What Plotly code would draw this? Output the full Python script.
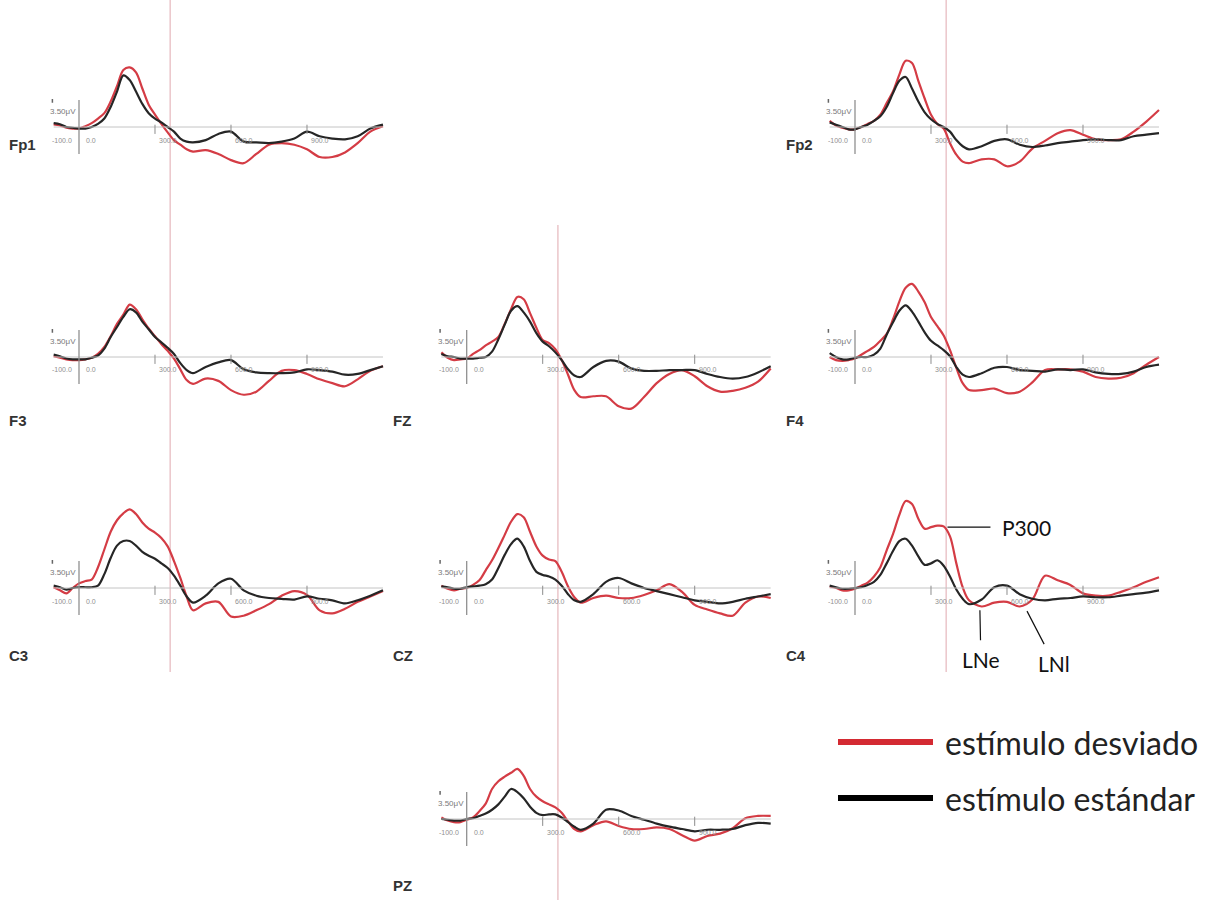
import plotly.graph_objects as go

W, H = 1209, 900

# ---------------- data (µV) ----------------
T = [-100, -75, -50, -25, 0, 25, 50, 75, 100, 125, 150, 175, 200, 225, 250, 275, 300, 325, 350, 375, 400, 425, 450,
     500, 550, 600, 650, 700, 750, 800, 850, 900, 950, 1000, 1050, 1100, 1150, 1200]

FP1_DESV = [0.35, 0.2, -0.1, -0.2, -0.2, 0.1, 0.5, 1.1, 1.8, 3.3, 5.3, 7.4, 7.75, 7.1, 5.0, 2.9, 1.6, 0.4, -0.7, -1.7,
            -2.3, -2.9, -3.2, -3.0, -3.5, -4.3, -4.7, -3.5, -2.3, -2.1, -2.3, -2.9, -3.9, -3.9, -3.3, -2.1, -0.6, 0.1]
FP1_STD = [0.5, 0.35, 0.0, -0.1, -0.2, -0.2, 0.0, 0.4, 1.1, 2.6, 4.6, 6.7, 6.1, 4.6, 3.0, 1.8, 1.1, 0.6, 0.0, -0.6,
           -1.5, -1.9, -2.0, -1.7, -0.9, -0.6, -1.9, -2.0, -2.1, -1.9, -1.5, -0.6, -1.2, -1.5, -1.6, -1.2, -0.2, 0.3]

FP2_DESV = [0.8, 0.2, -0.1, -0.3, -0.3, 0.0, 0.4, 0.8, 1.6, 3.1, 4.6, 6.8, 8.6, 8.3, 6.0, 3.7, 1.6, 0.4, -0.2, -2.1,
            -3.6, -4.5, -4.7, -4.2, -4.2, -5.1, -4.5, -2.8, -1.8, -0.8, -0.4, -1.0, -1.6, -1.7, -1.6, -0.6, 0.7, 2.2]
FP2_STD = [0.6, 0.3, 0.0, -0.3, -0.3, 0.0, 0.3, 0.8, 1.4, 2.6, 4.4, 6.0, 6.5, 5.0, 3.3, 1.9, 1.0, 0.4, 0.0, -0.6,
           -1.7, -2.5, -2.9, -2.5, -1.8, -1.6, -2.3, -2.6, -2.4, -2.1, -1.9, -1.7, -1.6, -1.7, -1.7, -1.2, -1.0, -0.8]

F3_DESV = [0.1, -0.1, -0.3, -0.4, -0.4, -0.3, -0.1, 0.4, 1.3, 2.7, 4.3, 5.5, 6.8, 6.2, 4.9, 3.7, 2.7, 1.7, 0.8, -0.2,
           -1.6, -3.0, -3.5, -2.8, -3.1, -4.3, -4.9, -4.5, -3.1, -1.8, -1.7, -2.2, -2.9, -3.4, -3.8, -2.9, -1.8, -1.2]
F3_STD = [0.3, 0.1, -0.2, -0.3, -0.3, -0.3, -0.1, 0.2, 1.1, 2.6, 3.9, 5.2, 6.2, 5.8, 4.6, 3.6, 2.6, 1.9, 1.2, 0.4,
          -0.8, -1.7, -2.1, -1.3, -0.7, -0.4, -1.6, -2.0, -2.1, -2.1, -2.0, -1.6, -1.7, -1.9, -2.3, -2.2, -1.7, -1.2]

FZ_DESV = [0.6, -0.1, -0.4, -0.3, -0.2, 0.4, 0.9, 1.5, 2.0, 2.6, 4.3, 6.2, 7.8, 7.5, 5.7, 3.8, 2.2, 1.8, 1.0, -0.4,
           -2.3, -4.3, -5.2, -5.1, -5.1, -6.4, -6.7, -5.2, -3.4, -2.2, -1.7, -2.5, -3.8, -4.5, -4.4, -4.0, -3.2, -1.5]
FZ_STD = [0.4, 0.1, 0.0, -0.2, -0.2, -0.2, -0.1, 0.0, 0.7, 2.3, 4.2, 6.0, 6.6, 5.8, 4.6, 3.1, 2.0, 1.4, 0.6, -0.4,
          -1.6, -2.4, -2.6, -1.3, -0.5, -0.6, -1.5, -1.8, -1.8, -1.7, -1.7, -1.7, -2.2, -2.6, -2.8, -2.6, -2.0, -1.2]

F4_DESV = [0.0, -0.4, -0.5, -0.4, -0.2, 0.3, 0.8, 1.3, 2.1, 3.0, 4.9, 7.2, 9.0, 9.5, 8.5, 7.1, 5.2, 4.0, 2.8, 0.9,
           -1.4, -3.4, -4.3, -4.3, -4.1, -4.7, -4.5, -3.3, -1.7, -1.6, -1.6, -1.9, -2.6, -2.8, -2.7, -2.1, -1.0, 0.0]
F4_STD = [0.5, 0.0, -0.3, -0.3, -0.1, 0.0, 0.0, 0.3, 1.1, 2.9, 4.5, 6.0, 6.7, 5.9, 4.6, 3.2, 2.1, 1.5, 0.9, 0.1,
          -1.3, -2.3, -2.6, -2.1, -1.4, -1.3, -1.7, -1.8, -1.9, -1.6, -1.7, -1.6, -2.0, -2.2, -2.2, -1.9, -1.3, -1.0]

C3_DESV = [0.1, -0.3, -0.7, 0.0, 0.6, 0.9, 1.1, 2.7, 5.0, 7.3, 8.8, 9.7, 10.2, 9.6, 8.5, 7.7, 7.2, 6.5, 5.4, 3.5,
           1.3, -1.1, -2.9, -2.0, -1.8, -3.7, -3.6, -2.9, -2.1, -1.0, -0.4, -0.9, -2.9, -3.3, -2.7, -1.8, -1.1, -0.4]
C3_STD = [0.3, 0.1, -0.2, 0.0, 0.1, 0.1, 0.1, 0.3, 1.8, 3.9, 5.5, 6.1, 6.1, 5.5, 4.7, 4.2, 3.8, 3.2, 2.6, 1.6,
          0.3, -1.1, -1.9, -1.0, 0.6, 1.2, -0.3, -1.0, -1.3, -1.4, -1.5, -1.1, -1.4, -1.6, -2.0, -1.6, -1.0, -0.3]

CZ_DESV = [0.3, -0.1, -0.3, -0.1, 0.0, 0.4, 1.0, 2.3, 3.6, 5.2, 6.9, 8.6, 9.6, 9.2, 7.3, 5.4, 4.2, 3.7, 3.5, 2.1,
           0.2, -1.2, -1.9, -1.3, -1.0, -1.3, -1.3, -0.9, -0.3, 0.5, -0.5, -2.2, -2.8, -3.3, -3.6, -1.9, -1.1, -1.3]
CZ_STD = [0.2, 0.1, -0.1, -0.1, 0.1, 0.2, 0.3, 0.5, 1.1, 2.6, 4.3, 5.7, 6.4, 5.4, 3.5, 2.1, 1.7, 1.5, 1.1, 0.3,
          -0.8, -1.6, -1.8, -0.8, 0.8, 1.3, 0.6, 0.0, -0.4, -0.8, -1.2, -1.6, -1.8, -2.0, -1.8, -1.4, -1.1, -0.8]

C4_DESV = [0.2, 0.0, -0.3, -0.3, -0.1, 0.3, 0.7, 1.5, 2.7, 4.9, 7.0, 9.5, 11.3, 10.9, 9.0, 7.7, 7.9, 8.1, 8.0, 6.7,
           3.2, 0.1, -1.6, -2.4, -1.9, -1.8, -2.4, -1.5, 1.6, 1.0, 0.4, -0.7, -1.0, -1.0, -0.5, 0.1, 0.8, 1.4]
C4_STD = [0.3, 0.1, -0.1, -0.1, 0.0, 0.1, 0.4, 0.8, 1.7, 3.2, 4.8, 6.1, 6.4, 5.5, 4.1, 3.0, 3.2, 3.6, 2.9, 1.5,
          -0.2, -1.4, -2.1, -1.5, 0.1, 0.3, -0.8, -1.4, -1.6, -1.4, -1.3, -1.1, -1.2, -1.2, -1.0, -0.8, -0.6, -0.3]

PZ_DESV = [0.2, -0.2, -0.4, -0.4, -0.1, 0.2, 1.0, 2.0, 3.9, 4.9, 5.5, 6.0, 6.5, 5.6, 3.9, 2.9, 2.3, 1.9, 1.5, 0.8,
           -0.3, -1.3, -1.6, -0.8, -0.3, -0.9, -1.3, -1.3, -1.1, -1.3, -2.1, -2.8, -2.2, -1.9, -1.2, 0.1, 0.4, 0.4]
PZ_STD = [0.0, -0.1, -0.2, -0.2, 0.0, 0.1, 0.4, 0.7, 1.2, 1.9, 2.9, 3.9, 3.5, 2.7, 1.6, 0.8, 0.5, 0.6, 0.6, 0.2,
          -0.4, -1.0, -1.4, -0.6, 1.2, 1.1, 0.4, -0.1, -0.6, -1.0, -1.3, -1.6, -1.4, -1.4, -1.3, -0.8, -0.5, -0.6]

ELECTRODES = ["Fp1", "Fp2", "F3", "FZ", "F4", "C3", "CZ", "C4", "PZ"]
DESV = [FP1_DESV, FP2_DESV, F3_DESV, FZ_DESV, F4_DESV, C3_DESV, CZ_DESV, C4_DESV, PZ_DESV]
STD = [FP1_STD, FP2_STD, F3_STD, FZ_STD, F4_STD, C3_STD, CZ_STD, C4_STD, PZ_STD]

TICK_VALS = [-100, 0, 300, 600, 900]
TICK_LABELS = ["-100.0", "0.0", "300.0", "600.0", "900.0"]
SCALE_UV = 3.5
SCALE_LABEL = "3.50\u03bcV"
MARKER_MS = 360
SERIES_NAMES = ["estímulo desviado", "estímulo estándar"]
PEAK_LABELS = [("P300", 365, 7.9), ("LNe", 493, -2.9), ("LNl", 679, -3.0)]

# ---------------- layout helpers ----------------
COLS = {"Fp1": 0, "Fp2": 2, "F3": 0, "FZ": 1, "F4": 2, "C3": 0, "CZ": 1, "C4": 2, "PZ": 1}
ROWS = {"Fp1": 0, "Fp2": 0, "F3": 1, "FZ": 1, "F4": 1, "C3": 2, "CZ": 2, "C4": 2, "PZ": 3}
COL_X0 = [79, 466.7, 855]
ROW_BASE = [127, 357, 588, 819]
LABEL_POS = {"Fp1": (7, 145), "Fp2": (784, 145), "F3": (7, 420), "FZ": (391, 420), "F4": (784, 420),
             "C3": (7, 655), "CZ": (391, 655), "C4": (784, 655), "PZ": (391, 885)}
PX_MS = 76 / 300
PX_UV = 7.7
XR = [-130, 1230]
YR = [-10, 14]

RED = "#d43c45"
BLACK = "#262626"

fig = go.Figure()
shapes, annotations = [], []
col_axis = {}

for i, name in enumerate(ELECTRODES):
    k = i + 1
    xid = "x" if k == 1 else f"x{k}"
    yid = "y" if k == 1 else f"y{k}"
    c, r = COLS[name], ROWS[name]
    x0 = COL_X0[c]
    base = ROW_BASE[r]
    xl = (x0 + XR[0] * PX_MS) / W
    xr = (x0 + XR[1] * PX_MS) / W
    yb = 1 - (base - YR[0] * PX_UV) / H
    yt = 1 - (base - YR[1] * PX_UV) / H
    fig.layout[("xaxis" if k == 1 else f"xaxis{k}")] = dict(domain=[xl, xr], range=XR, visible=False,
                                                           anchor=yid, fixedrange=True)
    fig.layout[("yaxis" if k == 1 else f"yaxis{k}")] = dict(domain=[yb, yt], range=YR, visible=False,
                                                           anchor=xid, fixedrange=True)
    col_axis.setdefault(c, xid)

    # axes drawn in data coordinates
    shapes.append(dict(type="line", xref=xid, yref=yid, x0=T[0], x1=T[-1], y0=0, y1=0,
                       line=dict(color="#c4c4c4", width=1)))
    shapes.append(dict(type="line", xref=xid, yref=yid, x0=0, x1=0, y0=-SCALE_UV, y1=SCALE_UV,
                       line=dict(color="#909090", width=1.3)))
    shapes.append(dict(type="line", xref=xid, yref=yid, x0=-105, x1=-105, y0=SCALE_UV - 0.35, y1=SCALE_UV + 0.15,
                       line=dict(color="#666", width=1.5)))
    for tv in TICK_VALS[2:]:
        shapes.append(dict(type="line", xref=xid, yref=yid, x0=tv, x1=tv, y0=-0.9, y1=0.3,
                           line=dict(color="#8c8c8c", width=1)))
    for tv, lab in zip(TICK_VALS, TICK_LABELS):
        shift = -4 if tv < 0 else (5 if tv == 0 else 2)
        annotations.append(dict(xref=xid, yref=yid, x=tv, y=0, text=lab, showarrow=False,
                                xanchor="left", yanchor="middle", xshift=shift, yshift=-13,
                                font=dict(size=7, color="#8f8f8f", family="Liberation Sans")))
    annotations.append(dict(xref=xid, yref=yid, x=0, y=SCALE_UV * 0.56, text=SCALE_LABEL, showarrow=False,
                            xanchor="right", yanchor="middle", xshift=-1,
                            font=dict(size=8, color="#7a7a7a", family="Liberation Sans")))
    lx, ly = LABEL_POS[name]
    annotations.append(dict(xref="paper", yref="paper", x=lx / W, y=1 - ly / H, text=f"<b>{name}</b>",
                            showarrow=False, xanchor="left", yanchor="middle",
                            font=dict(size=15, color="#333333", family="Liberation Sans")))

    fig.add_trace(go.Scatter(x=T, y=DESV[i], xaxis=xid, yaxis=yid, mode="lines", showlegend=False,
                             name=SERIES_NAMES[0],
                             line=dict(color=RED, width=2.2, shape="spline", smoothing=0.9)))
    fig.add_trace(go.Scatter(x=T, y=STD[i], xaxis=xid, yaxis=yid, mode="lines", showlegend=False,
                             name=SERIES_NAMES[1],
                             line=dict(color=BLACK, width=2.2, shape="spline", smoothing=0.9)))

    if name == "C4":
        offsets = {"P300": (79, 0), "LNe": (1, 49), "LNl": (27, 52)}
        for lab, tx, ty in PEAK_LABELS:
            ax, ay = offsets[lab]
            annotations.append(dict(xref=xid, yref=yid, x=tx, y=ty, text=lab, showarrow=True,
                                    arrowhead=0, arrowwidth=1.2, arrowcolor="#111", ax=ax, ay=ay,
                                    borderpad=6 if lab != "P300" else 11,
                                    font=dict(size=21, color="#111", family="Lato")))

# pink marker lines through each column
spans = {0: (0, 672), 1: (225, 900), 2: (0, 672)}
for c, (p0, p1) in spans.items():
    shapes.append(dict(type="line", xref=col_axis[c], yref="paper", x0=MARKER_MS, x1=MARKER_MS,
                       y0=1 - p1 / H, y1=1 - p0 / H, layer="below",
                       line=dict(color="#ecc9cd", width=1.6)))

# legend
for (nm, col, yy) in [(SERIES_NAMES[0], "#d42a32", 742), (SERIES_NAMES[1], "#000000", 798)]:
    shapes.append(dict(type="line", xref="paper", yref="paper", x0=838 / W, x1=933 / W,
                       y0=1 - yy / H, y1=1 - yy / H, line=dict(color=col, width=6)))
    annotations.append(dict(xref="paper", yref="paper", x=943 / W, y=1 - yy / H, text=nm, showarrow=False,
                            xanchor="left", yanchor="middle",
                            font=dict(size=32, color="#222222", family="Lato")))

fig.update_layout(width=W, height=H, autosize=False, margin=dict(l=0, r=0, t=0, b=0),
                  paper_bgcolor="white", plot_bgcolor="white", shapes=shapes, annotations=annotations,
                  showlegend=False)

fig.write_html("out.html", config={"displayModeBar": False},
               post_script="document.body.style.margin='0px';")
